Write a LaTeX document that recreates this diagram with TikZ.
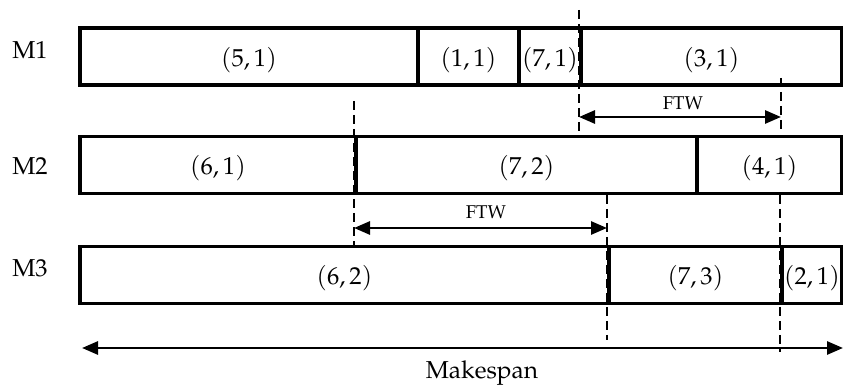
\documentclass[tikz,border=0pt]{standalone}
\usepackage[T1]{fontenc}
\usepackage{mathpazo}
\usetikzlibrary{arrows.meta}
\tikzset{
  cell/.style={draw=black, line width=3.8pt, minimum height=57pt, inner sep=0pt, anchor=west},
  celltext/.style={font=\fontsize{24.5}{28}\selectfont, inner sep=0pt},
  mlabel/.style={font=\fontsize{24.5}{28}\selectfont, inner sep=0pt},
  ftwlabel/.style={font=\fontsize{18.5}{22}\selectfont, inner sep=0pt},
  dline/.style={line width=1.9pt, dash pattern=on 9pt off 5pt},
  dimarrow/.style={line width=2.8pt, {Triangle[length=16pt,width=13pt]}-{Triangle[length=16pt,width=13pt]}}
}
\begin{document}
\begin{tikzpicture}[x=1pt,y=1pt]
\useasboundingbox (0,0) rectangle (843,385);
% dashed guide lines (drawn first, under cells)
\coordinate (d1t) at (579,375); \coordinate (d1b) at (579,254);
\coordinate (d2t) at (781,307); \coordinate (d2b) at (781,252);
\coordinate (d3t) at (354,284); \coordinate (d3b) at (354,139);
\coordinate (d4t) at (607,190); \coordinate (d4b) at (607,45);
\coordinate (d5t) at (780,190); \coordinate (d5b) at (780,33);
\draw[dline] (d1t) -- (d1b);
\draw[dline] (d3t) -- (d3b);
\draw[dline] (d4t) -- (d4b);
\draw[dline] (d5t) -- (d5b);
% row M1
\node[cell, minimum width=338pt] (c51) at (78,328.5) {};
\node[cell, minimum width=101pt] (c11) at (416,328.5) {};
\node[cell, minimum width=62pt] (c71) at (517,328.5) {};
\node[cell, minimum width=261pt] (c31) at (579,328.5) {};
% row M2
\node[cell, minimum width=276pt] (c61) at (78,220) {};
\node[cell, minimum width=341pt] (c72) at (354,220) {};
\node[cell, minimum width=145pt] (c41) at (695,220) {};
% row M3
\node[cell, minimum width=529pt] (c62) at (78,110) {};
\node[cell, minimum width=173pt] (c73) at (607,110) {};
\node[cell, minimum width=60pt] (c21) at (780,110) {};
% cell texts
\node[celltext] (t51) at ([yshift=-4pt]c51.center) {$(5,1)$};
\node[celltext] (t11) at ([yshift=-4pt]c11.center) {$(1,1)$};
\node[celltext] (t71) at ([yshift=-4pt]c71.center) {$(7,1)$};
\node[celltext] (t31) at ([yshift=-4pt]c31.center) {$(3,1)$};
\node[celltext] (t61) at ([yshift=-3pt]c61.center) {$(6,1)$};
\node[celltext] (t72) at ([yshift=-3pt]c72.center) {$(7,2)$};
\node[celltext] (t41) at ([yshift=-3pt]c41.center) {$(4,1)$};
\node[celltext] (t62) at ([yshift=-3pt]c62.center) {$(6,2)$};
\node[celltext] (t73) at ([yshift=-3pt]c73.center) {$(7,3)$};
\node[celltext] (t21) at ([yshift=-3pt]c21.center) {$(2,1)$};
% dashed line drawn over M1 cell
\draw[dline] (d2t) -- (d2b);
% machine labels
\node[mlabel] (m1) at (30,335) {M1};
\node[mlabel] (m2) at (30,219) {M2};
\node[mlabel] (m3) at (30,117) {M3};
% FTW arrows
\coordinate (a1l) at (579,268); \coordinate (a1r) at (781,268);
\draw[dimarrow] (a1l) -- (a1r);
\node[ftwlabel] (ftw1) at (683,282) {FTW};
\coordinate (a2l) at (354,157); \coordinate (a2r) at (607,157);
\draw[dimarrow] (a2l) -- (a2r);
\node[ftwlabel] (ftw2) at (486,173) {FTW};
% makespan
\coordinate (msl) at (82,37); \coordinate (msr) at (843,37);
\draw[dimarrow] (msl) -- (msr);
\node[mlabel] (ms) at (482,12) {Makespan};
\end{tikzpicture}
\end{document}
